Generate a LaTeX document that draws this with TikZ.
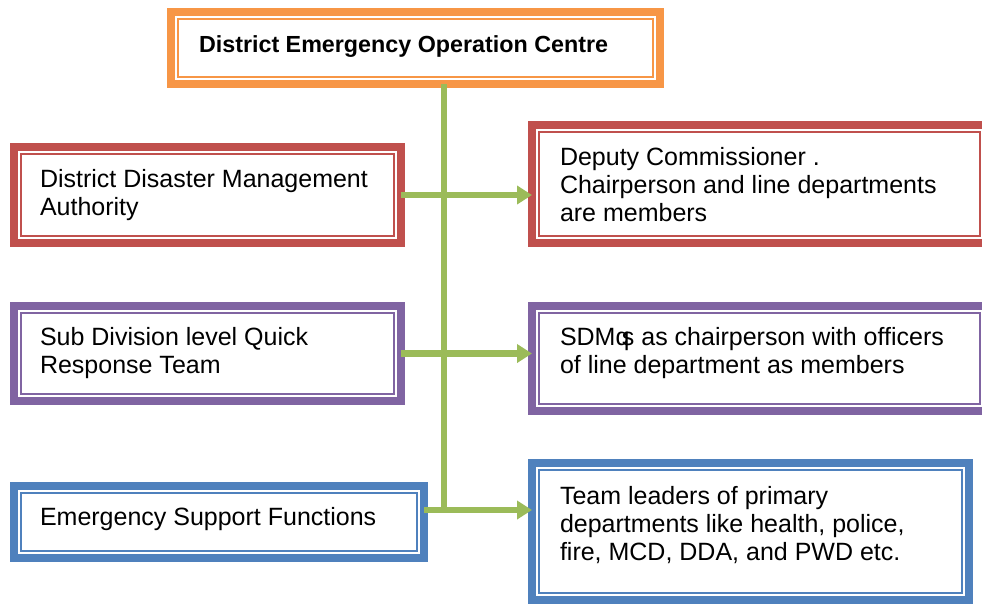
\documentclass[tikz,border=0pt]{standalone}
\usepackage{fontspec}
\setmainfont{Liberation Sans}
\usetikzlibrary{arrows.meta}
\definecolor{cOrange}{HTML}{F79646}
\definecolor{cRed}{HTML}{C0504D}
\definecolor{cPurple}{HTML}{8064A2}
\definecolor{cBlue}{HTML}{4F81BD}
\definecolor{cGreen}{HTML}{9BBB59}
\begin{document}
\begin{tikzpicture}[x=1pt,y=-1pt,
  dbox/.style={draw=#1, line width=8pt, fill=white, inner sep=0pt, outer sep=0pt, shape=rectangle},
  txt/.style={anchor=base west, align=left, inner sep=0pt, outer sep=0pt, font=\fontsize{25}{28}\selectfont},
  ttl/.style={anchor=base west, inner sep=0pt, outer sep=0pt, font=\fontsize{23.3}{28}\selectfont\bfseries},
  conn/.style={draw=cGreen, line width=6.5pt, -{Triangle[length=15pt,width=18pt]}},
  trunkline/.style={draw=cGreen, line width=6.5pt}]
\useasboundingbox (0,0) rectangle (982,603);
\clip (0,0) rectangle (982,603);
% boxes
\node[dbox=cOrange, minimum width=489pt, minimum height=72pt] (deoc) at (415.5,48) {};
\node[dbox=cRed, minimum width=387pt, minimum height=96pt] (ddma) at (207.5,195) {};
\node[dbox=cRed, minimum width=455pt, minimum height=118pt] (dc) at (759.5,184) {};
\node[dbox=cPurple, minimum width=387pt, minimum height=95pt] (sdq) at (207.5,353.5) {};
\node[dbox=cPurple, minimum width=455pt, minimum height=105pt] (sdm) at (759.5,358.5) {};
\node[dbox=cBlue, minimum width=410pt, minimum height=72pt] (esf) at (219,522) {};
\node[dbox=cBlue, minimum width=437pt, minimum height=137pt] (tl) at (750.5,531.5) {};
% inner thin lines
\foreach \n/\c in {deoc/cOrange, ddma/cRed, dc/cRed, sdq/cPurple, sdm/cPurple, esf/cBlue, tl/cBlue}
  \draw[draw=\c, line width=1.5pt] ([shift={(7pt,-7pt)}]\n.north west) rectangle ([shift={(-7pt,7pt)}]\n.south east);
% texts (base = baseline of the last line)
\node[ttl] (tdeoc) at (199,52) {District Emergency Operation Centre};
\node[txt] (tddma) at (40,215) {District Disaster Management\\Authority};
\node[txt] (tdc) at (560,221) {Deputy Commissioner .\\Chairperson and line departments\\are members};
\node[txt] (tsdq) at (40,373) {Sub Division level Quick\\Response Team};
\node[txt] (tsdm) at (560,373) {SDMq\kern-0.3em s as chairperson with officers\\of line department as members};
\node[txt] (tesf) at (40,525) {Emergency Support Functions};
\node[txt] (ttl) at (560,560) {Team leaders of primary\\departments like health, police,\\fire, MCD, DDA, and PWD etc.};
% connectors
\coordinate (trunk) at (444,0);
\coordinate (esfy) at (0,510);
\coordinate (trunkend) at (0,513.25);
\draw[trunkline] (trunk |- deoc.south) -- (trunk |- trunkend);
\draw[conn] (ddma.east) -- (ddma.east -| dc.west);
\draw[conn] (sdq.east) -- (sdq.east -| sdm.west);
\draw[conn] (esf.east |- esfy) -- (tl.west |- esfy);
\end{tikzpicture}
\end{document}
